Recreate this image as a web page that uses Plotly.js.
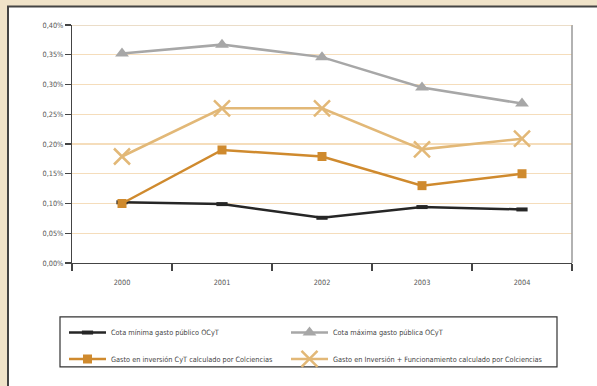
<!DOCTYPE html>
<html><head><meta charset="utf-8">
<script src="https://cdn.plot.ly/plotly-3.0.1.min.js"></script>
<style>html,body{margin:0;padding:0;background:#f0e3c9;}#c{width:597px;height:386px;}</style>
</head><body><div id="c"></div>
<script>
const years = ['2000','2001','2002','2003','2004'];
const cotaMinima = [0.00102, 0.00099, 0.00076, 0.00094, 0.00090];
const cotaMaxima = [0.00352, 0.00367, 0.00346, 0.00295, 0.00268];
const gastoInversion = [0.00100, 0.00190, 0.00179, 0.00130, 0.00150];
const gastoInvFunc = [0.00179, 0.00260, 0.00260, 0.00191, 0.00209];
const names = ['Cota mínima gasto público OCyT','Cota máxima gasto pública OCyT',
  'Gasto en inversión CyT calculado por Colciencias','Gasto en Inversión + Funcionamiento calculado por Colciencias'];

const F = '"DejaVu Sans Condensed","Liberation Sans Narrow",sans-serif';
const L = 72, R = 572, T = 25, B = 268;
const px = x => (x - L) / (R - L);
const py = y => (B - y) / (B - T);

const traces = [
  {x: years, y: cotaMinima, name: names[0], legend: 'legend', mode: 'lines+markers',
   line: {color: '#262626', width: 2.5},
   marker: {symbol: 'line-ew', size: 8, line: {color: '#262626', width: 4}}},
  {x: years, y: cotaMaxima, name: names[1], legend: 'legend2', mode: 'lines+markers',
   line: {color: '#a7a7a7', width: 2.5},
   marker: {symbol: 'triangle-up', size: 12, color: '#a7a7a7'}},
  {x: years, y: gastoInversion, name: names[2], legend: 'legend3', mode: 'lines+markers',
   line: {color: '#cf8a2e', width: 2.5},
   marker: {symbol: 'square', size: 9, color: '#cf8a2e'}},
  {x: years, y: gastoInvFunc, name: names[3], legend: 'legend4', mode: 'lines+markers',
   line: {color: '#e2b877', width: 2.5},
   marker: {symbol: 'x-thin-open', size: 16, line: {color: '#e2b877', width: 2.5}}}
];

const legCommon = {orientation: 'h',
  font: {family: F, size: 7.3, color: '#444'}, bgcolor: 'rgba(0,0,0,0)', borderwidth: 0,
  xanchor: 'left', yanchor: 'middle', itemwidth: 37};

const layout = {
  width: 597, height: 386,
  margin: {l: L, r: 597 - R, t: T, b: 386 - B, pad: 0},
  paper_bgcolor: '#f0e3c9', plot_bgcolor: '#ffffff',
  font: {family: F, size: 7.3, color: '#555'},
  showlegend: true,
  separators: ',.',
  xaxis: {type: 'category', range: [-0.5, 4.5], showgrid: false, zeroline: false,
    showline: true, linecolor: '#444', linewidth: 1.2,
    ticks: 'outside', ticklen: 7, tickcolor: '#444', tickwidth: 1.2, tickson: 'boundaries',
    ticklabelstandoff: 12, tickfont: {family: F, size: 7.3, color: '#555'}, fixedrange: true},
  yaxis: {range: [0, 0.004], dtick: 0.0005, tickformat: '.2%', showgrid: true,
    gridcolor: '#f5ddbb', gridwidth: 1.2, zeroline: false,
    showline: true, linecolor: '#444', linewidth: 1.2,
    ticks: 'outside', ticklen: 6, tickcolor: '#444', tickwidth: 1.2,
    tickfont: {family: F, size: 7.3, color: '#555'}, fixedrange: true},
  legend: Object.assign({}, legCommon, {x: px(64), y: py(339)}),
  legend2: Object.assign({}, legCommon, {x: px(286), y: py(339)}),
  legend3: Object.assign({}, legCommon, {x: px(64), y: py(366)}),
  legend4: Object.assign({}, legCommon, {x: px(286), y: py(366)}),
  shapes: [
    {type: 'rect', xref: 'paper', yref: 'paper', x0: px(8), x1: px(610), y0: py(400), y1: py(6),
     fillcolor: '#ffffff', line: {color: '#444', width: 2}, layer: 'below'},
    {type: 'line', xref: 'paper', yref: 'paper', x0: 1, x1: 1, y0: 0, y1: 1,
     line: {color: '#999', width: 1.5}},
    {type: 'line', xref: 'paper', yref: 'y', x0: 0, x1: 1, y0: 0.004, y1: 0.004,
     line: {color: '#d8bb92', width: 1.2}},
    {type: 'rect', xref: 'paper', yref: 'paper', x0: px(60), x1: px(557), y0: py(374), y1: py(323),
     line: {color: '#333', width: 1.2}}
  ]
};

Plotly.newPlot('c', traces, layout, {displayModeBar: false, staticPlot: true});
</script>
</body></html>
